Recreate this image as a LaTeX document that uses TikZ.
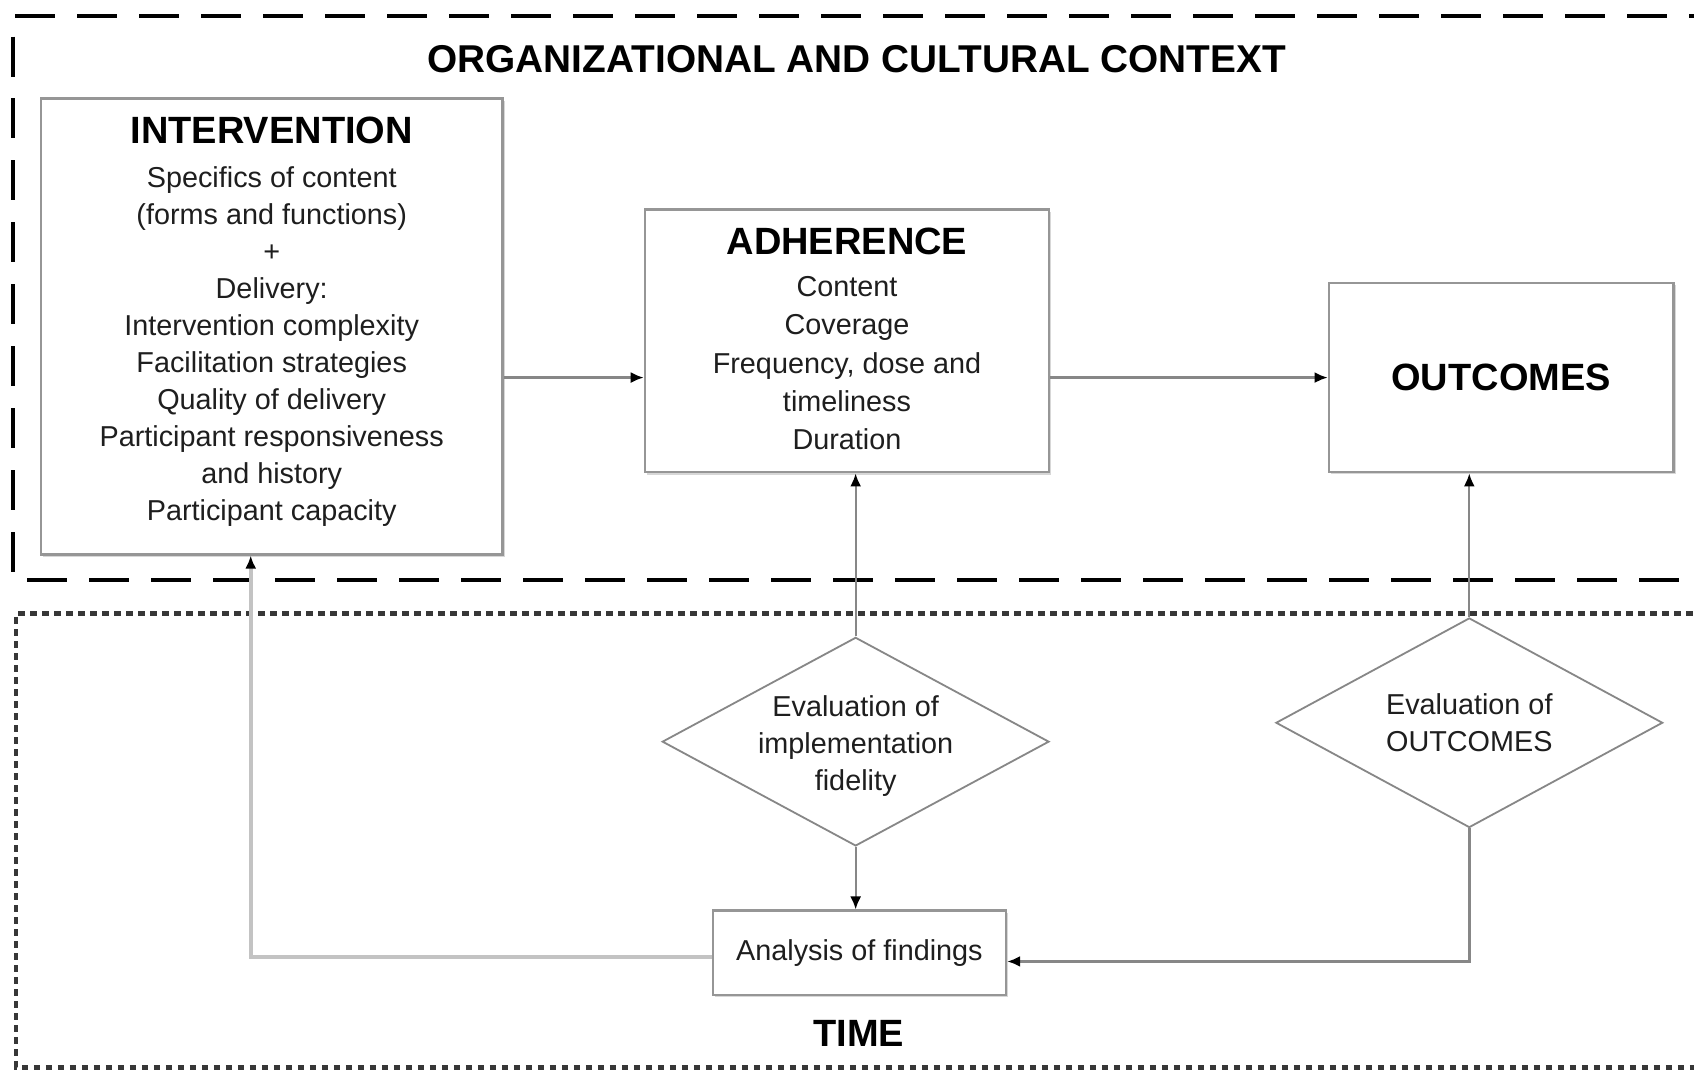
\documentclass[tikz,border=0pt]{standalone}
\usepackage{fontspec}
\setmainfont{Liberation Sans}
\usetikzlibrary{shapes.geometric,arrows.meta,shadows}
\definecolor{boxgray}{RGB}{150,150,150}
\definecolor{shadowgray}{RGB}{215,215,215}
\definecolor{linegray}{RGB}{135,135,135}
\definecolor{lightline}{RGB}{195,195,195}
\definecolor{txt}{RGB}{30,30,30}
\definecolor{dotgray}{RGB}{55,55,55}
\newcommand\myTitle{\fontsize{19pt}{22pt}\selectfont\bfseries}
\newcommand\myBigTitle{\fontsize{19.4pt}{22pt}\selectfont\bfseries}
\newcommand\myBodyA{\fontsize{14.4pt}{18.5pt}\selectfont}
\newcommand\myBodyB{\fontsize{14.4pt}{19.2pt}\selectfont}
\tikzset{
  box/.style={draw=boxgray, line width=1.3pt, fill=white,
    drop shadow={shadow xshift=1.2pt, shadow yshift=-1.2pt, fill=shadowgray, opacity=1},
    inner sep=0pt, align=center, text=txt},
  dia/.style={diamond, draw=linegray, line width=0.9pt, fill=white, inner sep=0pt,
    minimum width=193.4pt, minimum height=104.3pt},
  dtext/.style={align=center, text=txt, font=\myBodyA, inner sep=0pt},
  ttl/.style={font=\myTitle, text=black, inner sep=0pt},
  conn/.style={draw=linegray, line width=1.1pt, -{Latex[length=6.5pt,width=5.5pt,color=black]}},
  ctxframe/.style={draw=black, line width=2.2pt, dash pattern=on 20pt off 11pt},
  timeframe/.style={draw=dotgray, line width=2.2pt, dash pattern=on 3.2pt off 2.8pt}
}
\begin{document}
\begin{tikzpicture}[x=0.5402pt, y=-0.5402pt]
\useasboundingbox (0,0) rectangle (1568,992);
\clip (0,0) rectangle (1568,992);
\fill[white] (0,0) rectangle (1568,992);

% frames
\draw[ctxframe] (1600,15) -- (12,15) -- (12,537) -- (1600,537);
\draw[timeframe] (1600,568) -- (15,568) -- (15,988) -- (1600,988);

\node[ttl, font=\myBigTitle] (ctx) at (793,55) {ORGANIZATIONAL AND CULTURAL CONTEXT};
\node[ttl] (time) at (795,957) {TIME};

% boxes
\node[box, font=\myBodyA, minimum width=230.7pt, minimum height=228pt, text depth=7.8pt] (int) at (251.5,302)
  {{\myTitle\color{black}INTERVENTION}\\[3.7pt]
   Specifics of content\\(forms and functions)\\+\\Delivery:\\Intervention complexity\\
   Facilitation strategies\\Quality of delivery\\Participant responsiveness\\and history\\Participant capacity};
\node[box, font=\myBodyB, minimum width=202pt, minimum height=131.3pt, text depth=2.1pt] (adh) at (784,315.5)
  {{\myTitle\color{black}ADHERENCE}\\[1.8pt]
   Content\\Coverage\\Frequency, dose and\\timeliness\\Duration};
\node[box, font=\myTitle, text=black, minimum width=172.3pt, minimum height=94.5pt] (out) at (1389.5,349.5) {OUTCOMES};
\node[box, font=\myBodyA, minimum width=146.4pt, minimum height=42.1pt] (ana) at (795.5,882) {Analysis of findings};

% diamonds
\node[dia] (d1) at (792,686.5) {};
\node[dtext] (d1t) at (792,690.5) {Evaluation of\\implementation\\fidelity};
\node[dia, minimum height=104.8pt] (d2) at (1360,669) {};
\node[dtext] (d2t) at (1360,669) {Evaluation of\\OUTCOMES};

% connectors
\draw[conn] (int.east |- out.west) -- (adh.west |- out.west);
\draw[conn] (adh.east |- out.west) -- (out.west);
\draw[conn] (d1.north) -- (d1.north |- adh.south);
\draw[conn] (d1.south) -- (d1.south |- ana.north);
\draw[conn] (d2.north) -- (d2.north |- out.south);
\coordinate (anaIn) at ([yshift=-4.3pt]ana.east);
\draw[conn, line width=1.5pt] (d2.south) |- (anaIn);
\coordinate (anaOut) at ([yshift=-2pt]ana.west);
\coordinate (intIn) at ([xshift=-10.5pt]int.south);
\draw[conn, draw=lightline, line width=2pt] (anaOut) -| (intIn);
\end{tikzpicture}
\end{document}
